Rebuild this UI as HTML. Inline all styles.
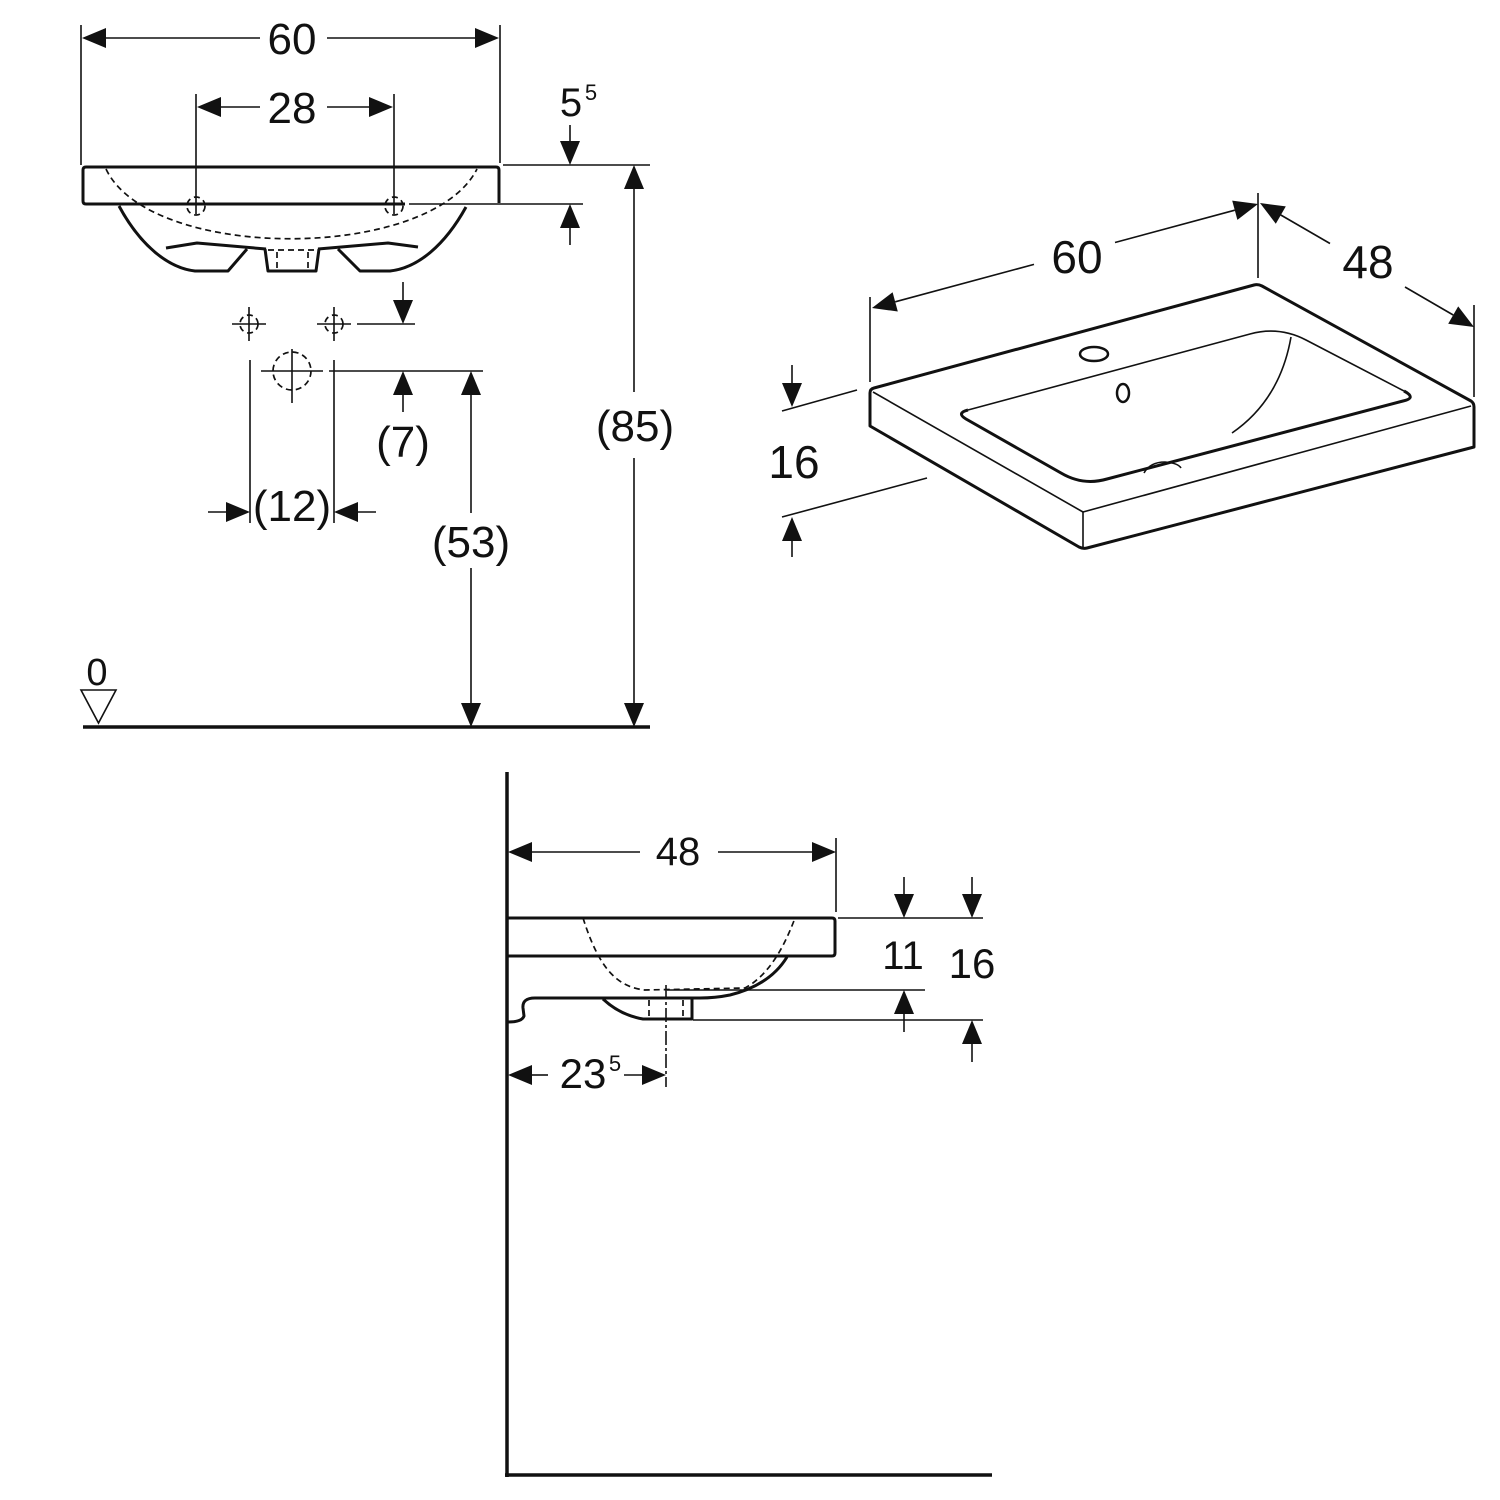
<!DOCTYPE html>
<html><head><meta charset="utf-8"><style>
html,body{margin:0;padding:0;background:#fff;}
svg{display:block;}
text{font-family:"Liberation Sans",Arial,sans-serif;fill:#111;}
</style></head><body>
<svg width="1500" height="1500" viewBox="0 0 1500 1500" xmlns="http://www.w3.org/2000/svg">
<rect width="1500" height="1500" fill="#fff"/>
<g stroke="#111" fill="none" stroke-linecap="butt">
<!-- ===== FRONT VIEW ===== -->
<g stroke-width="1.6">
<line x1="81" y1="25" x2="81" y2="165"/>
<line x1="500" y1="25" x2="500" y2="163"/>
<line x1="196" y1="94" x2="196" y2="214"/>
<line x1="394" y1="94" x2="394" y2="214"/>
<line x1="106" y1="38" x2="260" y2="38"/>
<line x1="327" y1="38" x2="475" y2="38"/>
<line x1="221" y1="107" x2="260" y2="107"/>
<line x1="327" y1="107" x2="369" y2="107"/>
<line x1="503" y1="165" x2="650" y2="165"/>
<line x1="570" y1="125" x2="570" y2="141"/>
<line x1="409" y1="204" x2="583" y2="204"/>
<line x1="570" y1="228" x2="570" y2="245"/>
<line x1="634" y1="189" x2="634" y2="392"/>
<line x1="634" y1="458" x2="634" y2="703"/>
<line x1="232" y1="324" x2="266" y2="324"/>
<line x1="249" y1="307" x2="249" y2="341"/>
<line x1="317" y1="324" x2="351" y2="324"/>
<line x1="334" y1="307" x2="334" y2="341"/>
<line x1="357" y1="324" x2="415" y2="324"/>
<line x1="403" y1="282" x2="403" y2="300"/>
<line x1="261" y1="371" x2="323" y2="371"/>
<line x1="292" y1="349" x2="292" y2="403"/>
<line x1="329" y1="371" x2="483" y2="371"/>
<line x1="250" y1="360" x2="250" y2="523"/>
<line x1="334" y1="360" x2="334" y2="523"/>
<line x1="403" y1="395" x2="403" y2="412"/>
<line x1="471" y1="395" x2="471" y2="513"/>
<line x1="471" y1="568" x2="471" y2="703"/>
<line x1="208" y1="512" x2="226" y2="512"/>
<line x1="358" y1="512" x2="376" y2="512"/>
<polygon points="81,690 116,690 98.5,723"/>
</g>
<g stroke-width="1.7" stroke-dasharray="6,4">
<circle cx="196" cy="206" r="9"/>
<circle cx="394" cy="206" r="9"/>
<circle cx="249" cy="324" r="9"/>
<circle cx="334" cy="324" r="9"/>
<circle cx="292" cy="371" r="19"/>
<path d="M106,169 C150,262 430,262 477,169"/>
<line x1="268" y1="250" x2="317" y2="250"/>
<line x1="277" y1="252" x2="277" y2="270"/>
<line x1="308" y1="252" x2="308" y2="270"/>
</g>
<g stroke-width="3" stroke-linejoin="round">
<path d="M405,204 L86,204 Q83,204 83,201 L83,170 Q83,167 86,167 L496,167 Q499,167 499,170 L499,203"/>
<path d="M119,206 C140,245 168,268 195,271 L228,271 L247,249"/>
<path d="M466,207 C445,245 418,268 390,271 L360,271 L338,249"/>
<path d="M166,248 L197,243 L266,249"/>
<path d="M318,249 L388,243 L418,247"/>
<path d="M265,249 L268,271 L316,271 L319,249"/>
</g>
<line x1="83" y1="727" x2="650" y2="727" stroke-width="3.5"/>

<!-- ===== ISO VIEW ===== -->
<g stroke-width="1.6">
<line x1="870" y1="297" x2="870" y2="382"/>
<line x1="1258" y1="193" x2="1258" y2="278"/>
<line x1="1474" y1="305" x2="1474" y2="397"/>
<line x1="895.2" y1="301.8" x2="1034" y2="264.4"/>
<line x1="1115" y1="242.5" x2="1234.8" y2="210.2"/>
<line x1="1280.8" y1="215" x2="1330" y2="243.5"/>
<line x1="1405" y1="287" x2="1453.2" y2="315"/>
<line x1="782" y1="411" x2="857" y2="390"/>
<line x1="782" y1="517" x2="927" y2="478"/>
<line x1="792" y1="365" x2="792" y2="383"/>
<line x1="792" y1="541" x2="792" y2="557"/>
<line x1="873" y1="392" x2="1083" y2="512"/>
<line x1="1083" y1="512" x2="1471" y2="406"/>
<line x1="1083" y1="512" x2="1083" y2="547"/>
<path d="M968,410 L1250,334 Q1279,326 1306,340 L1404,391"/>
<path d="M1291,337 Q1280,400 1232,433"/>
<path d="M1144,473 Q1150,462 1165,462 Q1178,463 1181,468"/>
</g>
<g stroke-width="3" stroke-linejoin="round">
<path d="M870,426 L870,393 Q870,389 874,388 L1254,285 Q1258,284 1262,286 L1471,401 Q1474,403 1474,407 L1474,447 L1087,548 Q1083,549 1079,547 Z"/>
<path d="M1404,391 Q1417,398 1403,401 L1107,479 Q1083,486 1061,473 L966,419 Q956,413 968,410"/>
<ellipse cx="1094" cy="354" rx="14" ry="7" stroke-width="2.5"/>
<ellipse cx="1123" cy="393" rx="6" ry="9" stroke-width="2.5"/>
</g>

<!-- ===== SIDE VIEW ===== -->
<g stroke-width="1.6">
<line x1="836" y1="838" x2="836" y2="912"/>
<line x1="532" y1="852" x2="640" y2="852"/>
<line x1="718" y1="852" x2="812" y2="852"/>
<line x1="838" y1="918" x2="983" y2="918"/>
<line x1="904" y1="877" x2="904" y2="894"/>
<line x1="972" y1="877" x2="972" y2="894"/>
<line x1="667" y1="990" x2="925" y2="990"/>
<line x1="693" y1="1020" x2="983" y2="1020"/>
<line x1="904" y1="1014" x2="904" y2="1032"/>
<line x1="972" y1="1044" x2="972" y2="1062"/>
<line x1="532" y1="1075" x2="548" y2="1075"/>
<line x1="624" y1="1075" x2="642" y2="1075"/>
<line x1="666" y1="985" x2="666" y2="1087" stroke-dasharray="14,3,3,3"/>
</g>
<g stroke-width="1.7" stroke-dasharray="6,4">
<path d="M583,918 C598,965 615,987 645,990 L745,988 Q775,972 795,918"/>
<line x1="649" y1="1000" x2="649" y2="1019"/>
<line x1="683" y1="1000" x2="683" y2="1019"/>
</g>
<g stroke-width="3" stroke-linejoin="round">
<path d="M507,918 L832,918 Q835,918 835,921 L835,953 Q835,956 832,956 L507,956"/>
<path d="M787,957 Q770,985 730,995 Q715,998 700,998 L535,998 Q522,998 523,1008 L524,1016 Q522,1022 508,1022"/>
<path d="M603,999 Q620,1015 643,1019 L692,1019 L692,999"/>
</g>
<line x1="507" y1="772" x2="507" y2="1477" stroke-width="3.5"/>
<line x1="505" y1="1475" x2="992" y2="1475" stroke-width="3.5"/>
</g>

<g fill="#111" stroke="none">
<polygon points="82,38 106,28 106,48"/>
<polygon points="499,38 475,28 475,48"/>
<polygon points="197,107 221,97 221,117"/>
<polygon points="393,107 369,97 369,117"/>
<polygon points="570,165 560,141 580,141"/>
<polygon points="570,204 560,228 580,228"/>
<polygon points="634,165 624,189 644,189"/>
<polygon points="634,727 624,703 644,703"/>
<polygon points="471,371 461,395 481,395"/>
<polygon points="471,727 461,703 481,703"/>
<polygon points="403,371 393,395 413,395"/>
<polygon points="403,324 393,300 413,300"/>
<polygon points="250,512 226,502 226,522"/>
<polygon points="334,512 358,502 358,522"/>
<polygon points="872,308 892.6,292.2 897.8,311.5"/>
<polygon points="1258,204 1237.4,219.9 1232.2,200.6"/>
<polygon points="1260,203 1285.8,206.4 1275.8,223.7"/>
<polygon points="1474,327 1448.2,323.7 1458.2,306.4"/>
<polygon points="792,407 782,383 802,383"/>
<polygon points="792,517 782,541 802,541"/>
<polygon points="508,852 532,842 532,862"/>
<polygon points="836,852 812,842 812,862"/>
<polygon points="904,918 894,894 914,894"/>
<polygon points="972,918 962,894 982,894"/>
<polygon points="904,990 894,1014 914,1014"/>
<polygon points="972,1020 962,1044 982,1044"/>
<polygon points="508,1075 532,1065 532,1085"/>
<polygon points="666,1075 642,1065 642,1085"/>
</g>

<g text-anchor="middle">
<text x="292" y="54" font-size="44">60</text>
<text x="292" y="123" font-size="44">28</text>
<text x="571" y="116" font-size="40">5</text>
<text x="591" y="100" font-size="22">5</text>
<text x="403" y="457" font-size="44">(7)</text>
<text x="292" y="521" font-size="44">(12)</text>
<text x="471" y="557" font-size="44">(53)</text>
<text x="635" y="441" font-size="44">(85)</text>
<text x="97" y="685" font-size="38">0</text>
<text x="1077" y="273" font-size="46">60</text>
<text x="1368" y="278" font-size="46">48</text>
<text x="794" y="478" font-size="46">16</text>
<text x="678" y="865" font-size="40">48</text>
<text x="903" y="969" font-size="40">11</text>
<text x="972" y="978" font-size="42">16</text>
<text x="583" y="1088" font-size="42">23</text>
<text x="615" y="1071" font-size="22">5</text>
</g>
</svg>
</body></html>
